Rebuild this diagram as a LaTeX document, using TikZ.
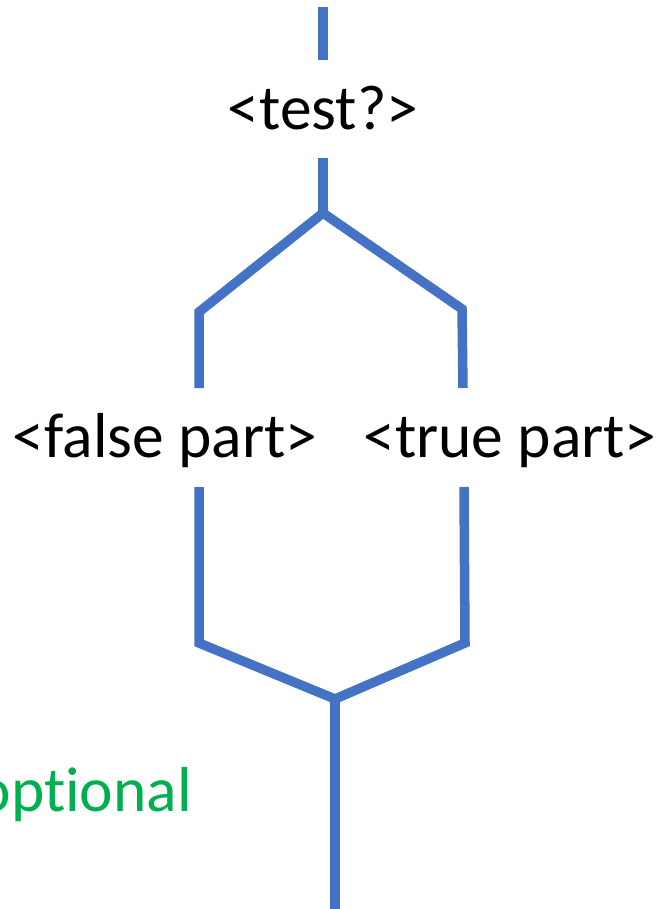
\documentclass[tikz,border=0pt]{standalone}
\usepackage{fontspec}
\setmainfont[Ligatures={NoCommon}]{Carlito}
\definecolor{flowblue}{HTML}{4472C4}
\definecolor{optgreen}{HTML}{00B050}
\begin{document}
\begin{tikzpicture}[x=1pt,y=-1pt,
  flow/.style={draw=flowblue,line width=9.5pt,line cap=butt,line join=miter},
  lbl/.style={inner sep=0pt,anchor=base,font=\fontsize{63.5}{76}\selectfont}]
\useasboundingbox (0,0) rectangle (663,909);
\clip (0,0) rectangle (663,909);

% labels
\node[lbl] (test) at (323,130) {<test?>};
\node[lbl] (false) at (165,457) {<false part>};
\node[lbl] (true) at (510,457) {<true part>};
\node[lbl,anchor=base east,text=optgreen] (opt) at (192,811) {optional};

% line ends and corners
\coordinate (in) at (323,7);
\coordinate (testtop) at (323,60);
\coordinate (testbot) at (323,158);
\coordinate (fork) at (323,213);
\coordinate (lcorner) at (199,312);
\coordinate (lfalse) at (199,388);
\coordinate (rcorner) at (462,309);
\coordinate (rtrue) at (463,388);
\coordinate (lfalseout) at (199,487);
\coordinate (ljoin) at (199,643);
\coordinate (rtrueout) at (464,487);
\coordinate (rjoin) at (465,643);
\coordinate (merge) at (335,699);
\coordinate (out) at (335,915);

% connectors
\draw[flow] (in) -- (testtop);
\draw[flow] (testbot) -- (fork);
\draw[flow] (fork) -- (lcorner) -- (lfalse);
\draw[flow] (fork) -- (rcorner) -- (rtrue);
\draw[flow] (lfalseout) -- (ljoin) -- (merge);
\draw[flow] (rtrueout) -- (rjoin) -- (merge);
\draw[flow] (merge) -- (out);
\end{tikzpicture}
\end{document}
